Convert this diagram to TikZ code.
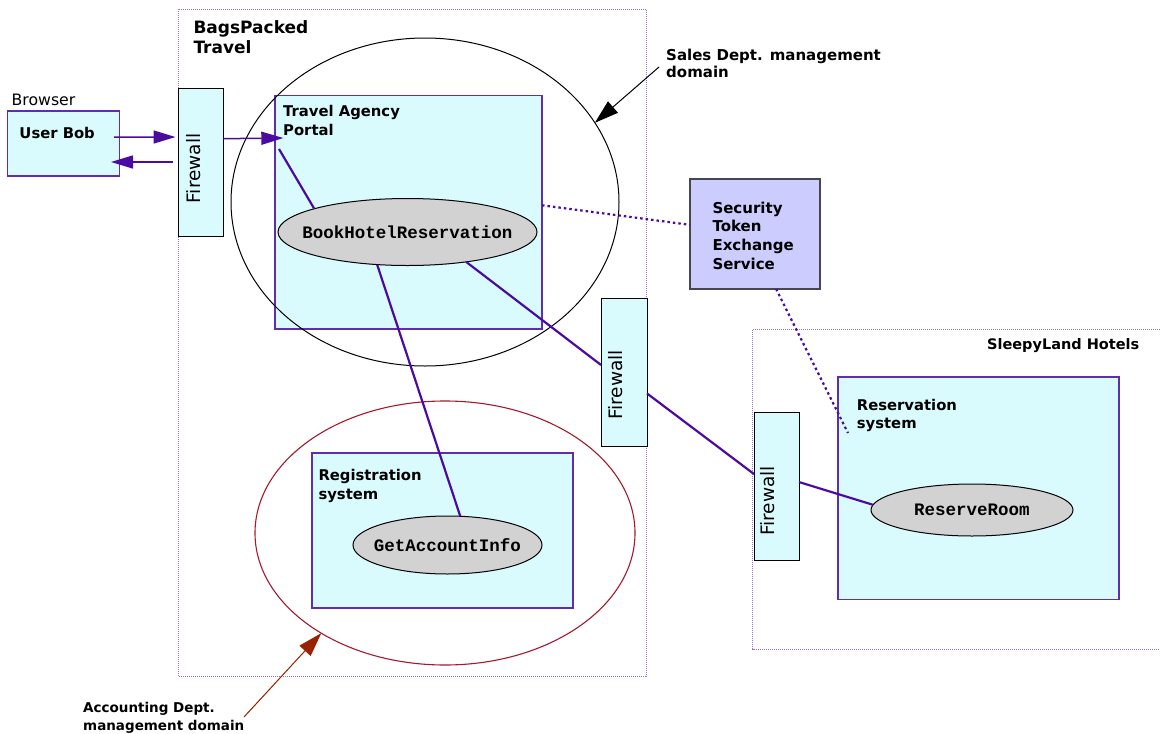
\documentclass[tikz,border=0pt]{standalone}
\usepackage{fontspec}
\setmainfont{DejaVu Sans}
\newfontfamily\opfont{Liberation Mono}
\usetikzlibrary{arrows.meta,shapes.geometric}
\definecolor{cyanfill}{RGB}{217,251,254}
\definecolor{boxedge}{RGB}{95,45,175}
\definecolor{conn}{RGB}{75,10,160}
\definecolor{domedge}{RGB}{150,110,215}
\definecolor{stsfill}{RGB}{204,204,255}
\definecolor{stsedge}{RGB}{70,70,80}
\definecolor{redell}{RGB}{165,25,45}
\definecolor{accarrow}{RGB}{153,34,0}
\definecolor{opgrey}{RGB}{210,210,210}
\tikzset{
  sysbox/.style={draw=boxedge, fill=cyanfill, line width=1.6pt, anchor=north west, inner sep=0pt, outer sep=0pt},
  fwbox/.style={draw=black, fill=cyanfill, line width=1pt, anchor=north west, inner sep=0pt, outer sep=0pt, minimum height=148pt},
  fwtext/.style={rotate=90, anchor=base, inner sep=0pt, font=\fontsize{18.5}{22}\selectfont},
  opnode/.style={ellipse, draw=black, fill=opgrey, line width=1pt, inner sep=0pt, outer sep=0pt},
  optext/.style={inner sep=0pt, font=\opfont\bfseries\fontsize{17.5}{20}\selectfont},
  lbl/.style={anchor=north west, inner sep=0pt, align=left, font=\bfseries\fontsize{14.8}{18.5}\selectfont},
  orgline/.style={draw=domedge, dash pattern=on 1pt off 1pt, line width=1pt},
  link/.style={draw=conn, line width=2.2pt},
  flow/.style={draw=conn, line width=1.5pt, -{Triangle[length=22pt,width=13pt]}},
  trust/.style={draw=conn, line width=2.2pt, dash pattern=on 2.5pt off 3pt},
  callout/.style={line width=1pt, -{Triangle[length=24pt,width=15pt]}}
}
\begin{document}
\begin{tikzpicture}[x=1pt,y=-1pt]
\useasboundingbox (0,0) rectangle (1160,734);

% organisations
\draw[orgline] (178.5,9) rectangle (646.7,676.7);
\draw[orgline] (1162,329.3) -- (752.8,329.3) -- (752.8,649) -- (1162,649);

% systems
\node[sysbox, minimum width=112pt, minimum height=64.7pt] (bob) at (7.5,111) {};
\node[sysbox, minimum width=267pt, minimum height=233.5pt] (portal) at (275,95.5) {};
\node[sysbox, minimum width=261pt, minimum height=155pt] (reg) at (312,453) {};
\node[sysbox, minimum width=281pt, minimum height=222.5pt] (res) at (838,377) {};
\node[draw=stsedge, fill=stsfill, line width=1.3pt, anchor=north west, inner sep=0pt, outer sep=0pt, minimum width=130pt, minimum height=110pt] (sts) at (690,179) {};

% management domains
\node[ellipse, draw=black, line width=1pt, inner sep=0pt, outer sep=0pt, minimum width=388pt, minimum height=328pt] (sales) at (425,202) {};
\node[ellipse, draw=redell, line width=1.1pt, inner sep=0pt, outer sep=0pt, minimum width=380pt, minimum height=264pt] (acct) at (445,533) {};

% firewalls
\node[fwbox, minimum width=45pt] (fw1) at (178,88) {};
\node[fwbox, minimum width=46pt] (fw2) at (601,298) {};
\node[fwbox, minimum width=45pt] (fw3) at (754,412) {};
\node[fwtext] (fw1t) at (200,168.5) {Firewall};
\node[fwtext] (fw2t) at (622,385) {Firewall};
\node[fwtext] (fw3t) at (774,501) {Firewall};

% operations
\node[opnode, minimum width=259pt, minimum height=67pt] (bhr) at (407.5,232) {};
\node[optext] (bhrt) at (bhr) {BookHotelReservation};
\node[opnode, minimum width=189pt, minimum height=58pt] (gai) at (447.5,545) {};
\node[optext] (gait) at (gai) {GetAccountInfo};
\node[opnode, minimum width=202pt, minimum height=52pt] (rr) at (972,510) {};
\node[optext] (rrt) at (rr) {ReserveRoom};

% labels
\node[anchor=north west, inner sep=0pt, font=\fontsize{15.7}{19}\selectfont] (browser) at (11.5,93.8) {Browser};
\node[lbl] (bobt) at (19.3,127.2) {User Bob};
\node[lbl, font=\bfseries\fontsize{17}{20}\selectfont] (bagst) at (193.3,20.2) {BagsPacked\\Travel};
\node[lbl, font=\bfseries\fontsize{14.8}{19}\selectfont] (portalt) at (283,105.5) {Travel Agency\\Portal};
\node[lbl, font=\bfseries\fontsize{15}{18.7}\selectfont] (stst) at (712.3,201.5) {Security\\Token\\Exchange\\Service};
\node[lbl, font=\bfseries\fontsize{15}{17.5}\selectfont] (salest) at (666,48.5) {Sales Dept. management\\domain};
\node[lbl, font=\bfseries\fontsize{14.8}{18.3}\selectfont] (regt) at (318.3,469.5) {Registration\\system};
\node[lbl, font=\bfseries\fontsize{14.8}{17.7}\selectfont] (rest) at (856.7,399.5) {Reservation\\system};
\node[lbl, anchor=north east, font=\bfseries\fontsize{14.5}{18}\selectfont] (sleept) at (1139.5,337.8) {SleepyLand Hotels};
\node[lbl, font=\bfseries\fontsize{13.5}{18}\selectfont] (acctt) at (83,702.5) {Accounting Dept.\\management domain};

% free ends
\coordinate (ub1) at (114,137);
\coordinate (ub2) at (111,162);
\coordinate (pin) at (283.3,138);
\coordinate (pt1) at (279,149);
\coordinate (resin) at (848,433);
\coordinate (salestail) at (659,67);
\coordinate (accttail) at (244,717);

% connectors
\draw[flow, shorten >=2.5pt] (ub1) -- (fw1.132);
\draw[flow, shorten <=5pt] (fw1.west) -- (ub2);
\draw[flow] (fw1.46.8) -- (pin);
\draw[link] (pt1) -- (bhr.166);
\draw[link] (bhr.227) -- (gai.66.7);
\draw[link] (bhr.333.6) -- (fw2.163.4);
\draw[link] (fw2.317.4) -- (fw3.152.4);
\draw[link] (fw3.10) -- (rr.177);
\draw[trust] (portal.3.4) -- (sts.172);
\draw[trust] (sts.291.8) -- (resin);
\draw[callout, black] (salestail) -- (sales.25);
\draw[callout, draw=accarrow, fill=accarrow] (accttail) -- (acct.219);
\end{tikzpicture}
\end{document}
